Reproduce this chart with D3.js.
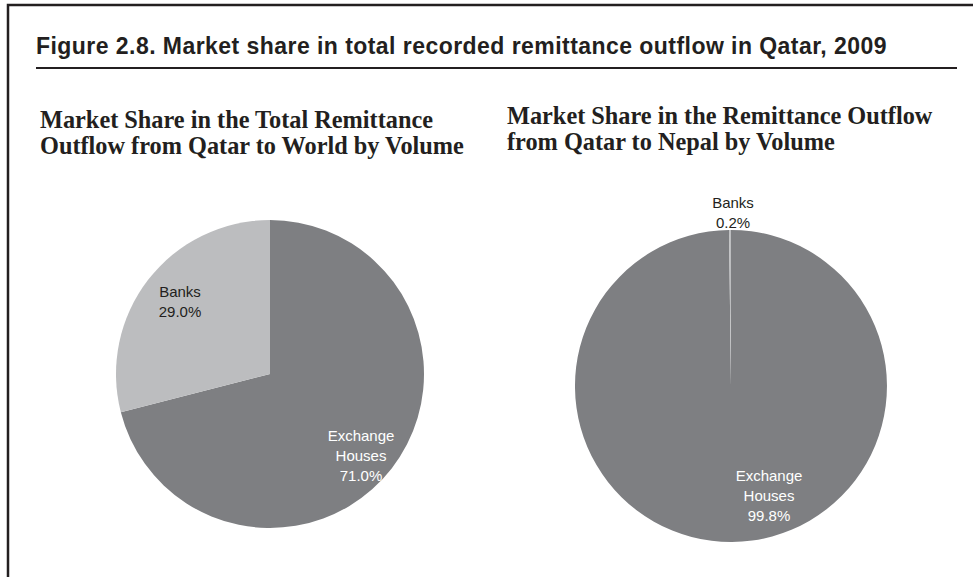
<!DOCTYPE html>
<html>
<head>
<meta charset="utf-8">
<script src="https://cdn.jsdelivr.net/npm/d3@7"></script>
<style>
    body { margin: 0; background: #fff; }
    svg { display: block; }
</style>
</head>
<body>
<div id="chart"></div>
<script>
//Datos
const categories = ['Exchange Houses', 'Banks'];
const labelLines = [['Exchange', 'Houses'], ['Banks']];
const worldShares = [71.0, 29.0];
const nepalShares = [99.8, 0.2];
const chartTitle = 'Figure 2.8. Market share in total recorded remittance outflow in Qatar, 2009';
const worldTitle = ['Market Share in the Total Remittance', 'Outflow from Qatar to World by Volume'];
const nepalTitle = ['Market Share in the Remittance Outflow', 'from Qatar to Nepal by Volume'];

//Colores fijos
const COLOR_DARK = '#7e7f82',
COLOR_LIGHT = '#bcbdbf',
COLOR_TEXT = '#231f20';

let width = 973, height = 577;

let svg = d3.select('#chart')
    .append('svg')
        .attr('width', width)
        .attr('height', height);

//Marco
svg.append('path')
    .attr('d', 'M8,577 V5 H973')
    .attr('fill', 'none')
    .attr('stroke', COLOR_TEXT)
    .attr('stroke-width', 2.5);

//Título
svg.append('text')
    .attr('x', 36)
    .attr('y', 54)
    .attr('font-family', 'Liberation Sans, Arial, sans-serif')
    .attr('font-weight', 700)
    .attr('font-size', 23)
    .attr('letter-spacing', 0.45)
    .attr('fill', COLOR_TEXT)
    .text(chartTitle);

svg.append('line')
    .attr('x1', 36).attr('x2', 957)
    .attr('y1', 68).attr('y2', 68)
    .attr('stroke', COLOR_TEXT)
    .attr('stroke-width', 2);

let color = d3.scaleOrdinal()
    .domain(categories)
    .range([COLOR_DARK, COLOR_LIGHT]);

let pie = d3.pie()
    .sort(null)
    .value(function(d) { return d.value; });

function drawPie(opts) {
    let data = categories.map(function(c, i) { return { key: c, value: opts.values[i], lines: labelLines[i] }; });

    //Subtítulo
    let t = svg.append('text')
        .attr('font-family', 'Liberation Serif, Times New Roman, serif')
        .attr('font-weight', 700)
        .attr('font-size', 24.3)
        .attr('fill', COLOR_TEXT);
    opts.title.forEach(function(line, i) {
        t.append('tspan')
            .attr('x', opts.titleX)
            .attr('y', opts.titleY + i * 26)
            .text(line);
    });

    let g = svg.append('g')
        .attr('transform', 'translate(' + opts.cx + ',' + opts.cy + ')');

    let arc = d3.arc().innerRadius(0).outerRadius(opts.r);

    g.selectAll('path')
        .data(pie(data))
        .enter()
        .append('path')
        .attr('d', arc)
        .attr('fill', function(d) { return color(d.data.key); });

    //Etiquetas
    pie(data).forEach(function(d, i) {
        let pos = opts.labels[i];
        let lines = d.data.lines.concat([d.data.value.toFixed(1) + '%']);
        let lbl = g.append('text')
            .attr('text-anchor', 'middle')
            .attr('font-family', 'Liberation Sans, Arial, sans-serif')
            .attr('font-size', 15)
            .attr('fill', pos.fill);
        lines.forEach(function(l, j) {
            lbl.append('tspan')
                .attr('x', pos.x)
                .attr('y', pos.y + j * 20)
                .text(l);
        });
    });
}

drawPie({
    values: worldShares,
    title: worldTitle,
    titleX: 40, titleY: 128,
    cx: 270, cy: 374, r: 154,
    labels: [
        { x: 91, y: 67, fill: '#ffffff' },
        { x: -90, y: -77, fill: COLOR_TEXT }
    ]
});

drawPie({
    values: nepalShares,
    title: nepalTitle,
    titleX: 507, titleY: 124,
    cx: 731, cy: 386, r: 156,
    labels: [
        { x: 38, y: 95, fill: '#ffffff' },
        { x: 2, y: -178, fill: COLOR_TEXT }
    ]
});
</script>
</body>
</html>
